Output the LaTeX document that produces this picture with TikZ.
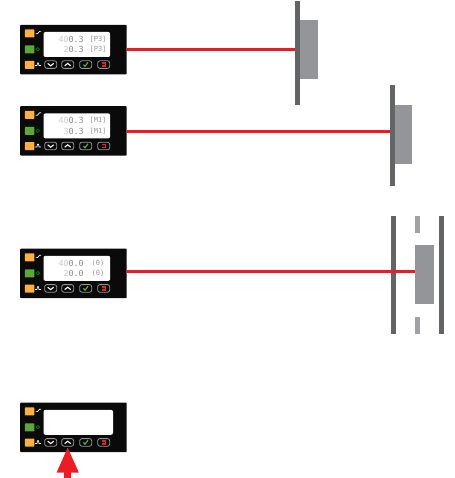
\documentclass[tikz,border=0pt]{standalone}
\usepackage{fontspec}
\setmonofont{DejaVu Sans Mono}
\usetikzlibrary{arrows.meta}
\definecolor{ledorange}{HTML}{FBB040}
\definecolor{ledgreen}{HTML}{5DA63A}
\definecolor{wallgray}{HTML}{636466}
\definecolor{blockgray}{HTML}{939598}
\definecolor{stubgray}{HTML}{A0A1A4}
\definecolor{beamred}{HTML}{ED1C24}
\definecolor{panelblack}{HTML}{0A0A0A}
\tikzset{
  panelbox/.style={fill=panelblack,draw=none,rounded corners=0.8pt,minimum width=106.5,minimum height=49.5,inner sep=0,anchor=north west},
  lcd/.style={fill=white,draw=none,rounded corners=2pt,inner sep=0,anchor=north west},
  led/.style={draw=none,rounded corners=0.6pt,minimum width=9.5,minimum height=8,inner sep=0,anchor=north west},
  keybtn/.style={fill=panelblack,draw=gray!85,line width=0.8pt,rounded corners=2.2pt,minimum width=12,minimum height=7.6,inner sep=0},
  glyph/.style={white,line width=1.1pt},
  readout/.style={font=\ttfamily\fontsize{8.4}{9}\selectfont,inner sep=0,anchor=east},
  unitlabel/.style={font=\ttfamily\fontsize{7}{8}\selectfont,inner sep=0,anchor=center,text=gray!80},
  wall/.style={fill=wallgray,draw=none,inner sep=0},
  block/.style={fill=blockgray,draw=none,inner sep=0},
  stub/.style={fill=stubgray,draw=none,inner sep=0},
  beam/.style={draw=beamred,line width=2.8pt},
}
\newcommand{\panelunit}[4]{%
  \begin{scope}[shift={(20,#2)}]
    \node[panelbox] (#1) at (0,0) {};
    \node[lcd,minimum width=#3,minimum height=25] (#1lcd) at (23.3,7.2) {};
    \node[led,fill=ledorange] (#1a) at (4.7,4.7) {};
    \node[led,fill=ledgreen] (#1b) at (4.7,20.7) {};
    \node[led,fill=ledorange] (#1c) at (4.7,36) {};
    \draw[white,line width=0.7pt] (15.5,9.2) -- (17.5,9.2) -- (19.5,6.8) -- (21,6.8);
    \draw[green!55!black,line width=0.6pt] (17.8,24.7) circle (1.7);
    \draw[white,line width=0.7pt] (15,41) -- (17,41) -- (17.5,38.3) -- (18.5,38.3) -- (19,41) -- (21,41);
    \node[keybtn] (#1k1) at (30.7,40) {};
    \node[keybtn] (#1k2) at (47.7,40) {};
    \node[keybtn] (#1k3) at (65.7,40) {};
    \node[keybtn] (#1k4) at (83.7,40) {};
    \draw[glyph] (27.7,38.8) -- (30.7,41.2) -- (33.7,38.8);
    \draw[glyph] (44.7,41.2) -- (47.7,38.8) -- (50.7,41.2);
    \draw[ledgreen,line width=1.2pt] (63.5,40) -- (65,41.8) -- (68,37.8);
    \fill[beamred] (81.6,37.9) rectangle (86,42.1);
    \fill[panelblack] (81.6,39.3) rectangle (84.8,40.7);
    #4
  \end{scope}}
\newcommand{\lcdtext}[5]{%
  \node[readout] at (64,14.6) {{\color{gray!40}#1}{\color{gray!90}#2}};
  \node[readout] at (64,25.2) {{\color{gray!40}#3}{\color{gray!90}#4}};
  \node[unitlabel] at (78,14.6) {#5};
  \node[unitlabel] at (78,25.2) {#5};}
\begin{document}
\begin{tikzpicture}[x=1pt,y=-1pt]
\useasboundingbox (0,0) rectangle (454,478);
\fill[white] (0,0) rectangle (454,478);

\panelunit{pa}{24.6}{66.7}{\lcdtext{40}{0.3}{2}{0.3}{[P3]}}
\panelunit{pb}{106}{66.7}{\lcdtext{40}{0.3}{3}{0.3}{[M1]}}
\panelunit{pc}{248.4}{66.7}{\lcdtext{40}{0.0}{2}{0.0}{(0)}}
\panelunit{pd}{402.4}{69.5}{}

% Target 1
\node[block,minimum width=18,minimum height=59] (ba) at (309.3,49.5) {};
\draw[beam] ([yshift=0.35pt]pa.east) -- ([yshift=0.35pt]pa.east -| ba.west);
\node[wall,minimum width=5,minimum height=104] (wa) at (297.8,53) {};

% Target 2
\node[block,minimum width=17.5,minimum height=59] (bb) at (403.3,134.5) {};
\draw[beam] ([yshift=-0.25pt]pb.east) -- ([yshift=-0.25pt]pb.east -| bb.west);
\node[wall,minimum width=5,minimum height=101] (wb) at (392.5,135.5) {};

% Target 3
\node[wall,minimum width=5,minimum height=118] (wc) at (393.2,275) {};
\node[wall,minimum width=5,minimum height=118] (wd) at (441.8,275) {};
\node[stub,minimum width=5,minimum height=17] (sa) at (417.8,224.5) {};
\node[stub,minimum width=5,minimum height=17] (sb) at (417.8,325.5) {};
\node[block,minimum width=18.7,minimum height=59] (bc) at (424.6,274.5) {};
\draw[beam] ([yshift=2.15pt]pc.east) -- ([yshift=2.15pt]pc.east -| bc.west);

% Arrow
\coordinate (arrowfoot) at (pdk2 |- 0,478);
\draw[beamred,line width=6.5pt,-{Triangle[length=26pt,width=20pt]}] (arrowfoot) -- (pdk2.south);
\end{tikzpicture}
\end{document}
